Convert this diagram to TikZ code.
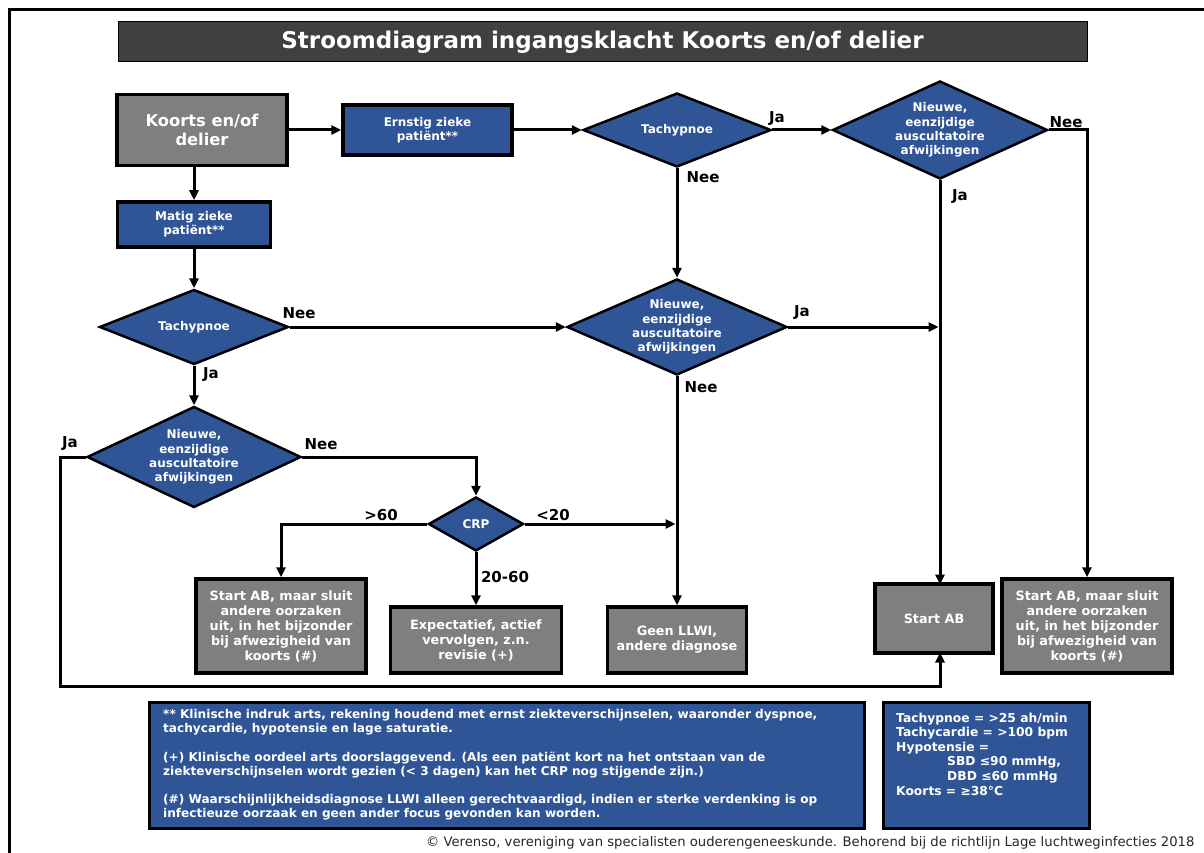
\documentclass[tikz,border=0pt]{standalone}
\usepackage{fontspec}
\setmainfont{DejaVu Sans}
\usetikzlibrary{shapes.geometric, arrows.meta}
\definecolor{vblue}{RGB}{47,85,151}
\definecolor{vgray}{RGB}{127,127,127}
\definecolor{vdark}{RGB}{64,64,64}
\tikzset{
  flowbox/.style={draw=black, line width=3.5, text=white, align=center, inner sep=0},
  greybox/.style={flowbox, fill=vgray, font=\bfseries\fontsize{12.8}{15}\selectfont},
  bluebox/.style={flowbox, fill=vblue, font=\bfseries\fontsize{12}{14}\selectfont},
  choice/.style={diamond, draw=black, line width=2.5, fill=vblue, text=white,
    font=\bfseries\fontsize{12}{14.3}\selectfont, align=center, inner sep=-2},
  arr/.style={line width=3, -{Triangle[length=10,width=9]}},
  lbl/.style={font=\bfseries\fontsize{15}{15}\selectfont},
  legbox/.style={draw=black, line width=3, fill=vblue, inner sep=0},
  legtext/.style={text=white, align=left, inner sep=0, anchor=north west}
}
\begin{document}
\begin{tikzpicture}[x=1pt, y=-1pt]
  \useasboundingbox (0,0) rectangle (1204,853);
  \fill[white] (0,0) rectangle (1204,853);
  % frame
  \draw[line width=3] (8,9.5) -- (1204,9.5);
  \draw[line width=3] (9.5,8) -- (9.5,853);
  % title
  \node[fill=vdark, draw=black, line width=1, minimum width=969, minimum height=40, inner sep=0,
    text=white, font=\bfseries\fontsize{23}{23}\selectfont] (title) at (602.5,42)
    {Stroomdiagram ingangsklacht Koorts en/of delier};

  % boxes and choices
  \node[greybox, minimum width=170, minimum height=71, font=\bfseries\fontsize{16.3}{19}\selectfont] (koorts) at (202,130) {Koorts en/of\\delier};
  \node[bluebox, minimum width=169, minimum height=50] (ernstig) at (427.5,130) {Ernstig zieke\\patiënt**};
  \node[choice, minimum width=188, minimum height=74, aspect=2.54] (tach1) at (677,130) {Tachypnoe};
  \node[choice, minimum width=215, minimum height=98, aspect=2.19] (nieuw1) at (940,130) {Nieuwe,\\eenzijdige\\auscultatoire\\afwijkingen};
  \node[bluebox, minimum width=153, minimum height=45] (matig) at (194,224.5) {Matig zieke\\patiënt**};
  \node[choice, minimum width=189, minimum height=75, aspect=2.52] (tach2) at (194,327) {Tachypnoe};
  \node[choice, minimum width=220, minimum height=96, aspect=2.29] (nieuw3) at (677,327) {Nieuwe,\\eenzijdige\\auscultatoire\\afwijkingen};
  \node[choice, minimum width=214, minimum height=101, aspect=2.12] (nieuw2) at (194,457) {Nieuwe,\\eenzijdige\\auscultatoire\\afwijkingen};
  \node[choice, minimum width=95, minimum height=54, aspect=1.76] (crp) at (476,524) {CRP};
  \node[greybox, minimum width=170, minimum height=94] (startL) at (281,626) {Start AB, maar sluit\\andere oorzaken\\uit, in het bijzonder\\bij afwezigheid van\\koorts (\#)};
  \node[greybox, minimum width=171, minimum height=66] (expect) at (476,640) {Expectatief, actief\\vervolgen, z.n.\\revisie (+)};
  \node[greybox, minimum width=139, minimum height=66] (geen) at (677,640) {Geen LLWI,\\andere diagnose};
  \node[greybox, minimum width=118, minimum height=69] (startAB) at (934,618.5) {Start AB};
  \node[greybox, minimum width=170, minimum height=94] (startR) at (1087,626) {Start AB, maar sluit\\andere oorzaken\\uit, in het bijzonder\\bij afwezigheid van\\koorts (\#)};
  \coordinate (loopL) at (60,686);
  \coordinate (abIn) at (940,584.5);
  \coordinate (abOut) at (940,652.5);

  % connectors
  \draw[arr] (koorts) -- (ernstig);
  \draw[arr] (ernstig) -- (tach1);
  \draw[arr] (tach1) -- (nieuw1);
  \draw[arr] (nieuw1.east) -| (startR.north);
  \draw[arr] (nieuw1.south) -- (abIn);
  \draw[arr] (tach1.south) -- (nieuw3.north);
  \draw[arr] (koorts.south -| matig.north) -- (matig.north);
  \draw[arr] (matig.south) -- (tach2.north);
  \draw[arr] (tach2.east) -- (nieuw3.west);
  \draw[arr, shorten >=1.5] (nieuw3.east) -- (nieuw3.east -| abIn);
  \draw[arr] (nieuw3.south) -- (geen.north);
  \draw[arr] (tach2.south) -- (nieuw2.north);
  \draw[arr] (nieuw2.east) -| (crp.north);
  \draw[arr] (nieuw2.west) -| (loopL) -| (abOut);
  \draw[arr] (crp.west) -| (startL.north);
  \draw[arr, shorten >=1.5] (crp.east) -- (crp.east -| geen.north);
  \draw[arr] (crp.south) -- (expect.north);

  % labels
  \node[lbl] (jaA) at (777,119) {Ja};
  \node[lbl] (neeA) at (1066,122) {Nee};
  \node[lbl] (jaB) at (960,197) {Ja};
  \node[lbl] (neeB) at (703,177) {Nee};
  \node[lbl] (neeC) at (299,313) {Nee};
  \node[lbl] (jaC) at (802,313) {Ja};
  \node[lbl] (neeD) at (701,387) {Nee};
  \node[lbl] (jaD) at (211,375) {Ja};
  \node[lbl] (jaE) at (70,444) {Ja};
  \node[lbl] (neeE) at (321,444) {Nee};
  \node[lbl] (gt60) at (381,515) {>60};
  \node[lbl] (lt20) at (553,515) {<20};
  \node[lbl] (mid) at (505,577) {20-60};

  % legend
  \node[legbox, minimum width=715, minimum height=126] (legL) at (506.5,765) {};
  \node[legtext, font=\bfseries\fontsize{12.1}{14.2}\selectfont] (legLtxt) at (163,709)
    {** Klinische indruk arts, rekening houdend met ernst ziekteverschijnselen, waaronder dyspnoe,\\
     tachycardie, hypotensie en lage saturatie.\\[14.2pt]
     (+) Klinische oordeel arts doorslaggevend. (Als een patiënt kort na het ontstaan van de\\
     ziekteverschijnselen wordt gezien (< 3 dagen) kan het CRP nog stijgende zijn.)\\[14.2pt]
     (\#) Waarschijnlijkheidsdiagnose LLWI alleen gerechtvaardigd, indien er sterke verdenking is op\\
     infectieuze oorzaak en geen ander focus gevonden kan worden.};
  \node[legbox, minimum width=206, minimum height=126] (legR) at (986,765) {};
  \node[legtext, font=\bfseries\fontsize{12.3}{14.6}\selectfont] (legRtxt) at (896,712.5)
    {Tachypnoe = >25 ah/min\\
     Tachycardie = >100 bpm\\
     Hypotensie =\\
     \hspace*{51pt}SBD ≤90 mmHg,\\
     \hspace*{51pt}DBD ≤60 mmHg\\
     Koorts = ≥38°C};
  \node[anchor=east, text=black!85, font=\fontsize{13.2}{13.2}\selectfont] (credit) at (1198,843)
    {© Verenso, vereniging van specialisten ouderengeneeskunde. Behorend bij de richtlijn Lage luchtweginfecties 2018};
\end{tikzpicture}
\end{document}
